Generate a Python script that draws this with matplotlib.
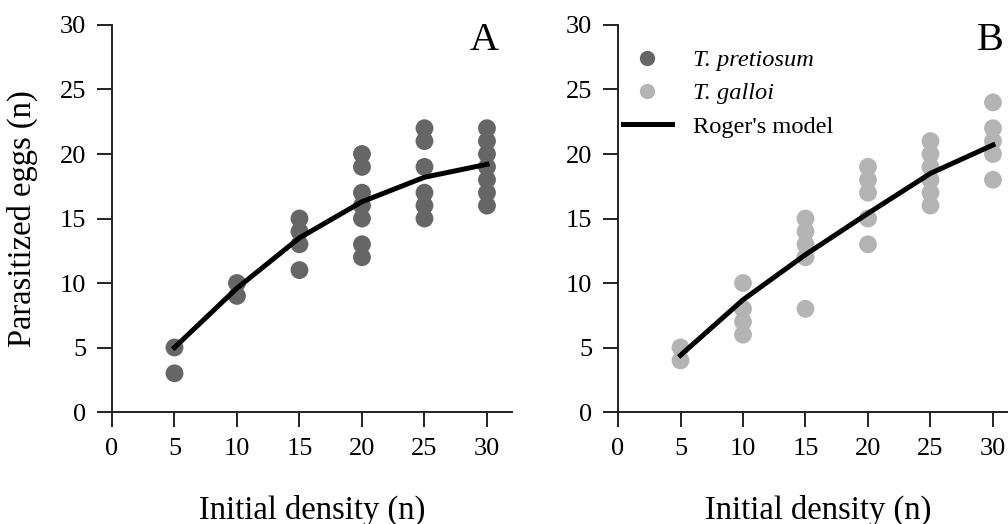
import matplotlib
matplotlib.use("Agg")
import matplotlib.pyplot as plt
from matplotlib.lines import Line2D

plt.rcParams['font.family'] = ['Liberation Serif', 'DejaVu Serif']

# initial host density and parasitized eggs per replicate
density = [5, 10, 15, 20, 25, 30]

pretiosum = {
    5: [5, 3],
    10: [10, 9],
    15: [15, 14, 13, 11],
    20: [20, 19, 17, 16, 15, 13, 12],
    25: [22, 21, 19, 17, 16, 15],
    30: [22, 21, 20, 19, 18, 17, 16],
}
galloi = {
    5: [5, 4],
    10: [10, 8, 7, 6],
    15: [15, 14, 13, 12, 8],
    20: [19, 18, 17, 15, 13],
    25: [21, 20, 19, 18, 17, 16],
    30: [24, 22, 21, 20, 18],
}

# Roger's model fitted values
model_a = [5.0, 9.6, 13.5, 16.3, 18.2, 19.2]
model_b = [4.4, 8.7, 12.2, 15.4, 18.5, 20.7]

xticks = [0, 5, 10, 15, 20, 25, 30]
yticks = [0, 5, 10, 15, 20, 25, 30]

dark = '#666666'
light = '#b4b4b4'

fig = plt.figure(figsize=(10.08, 5.24), dpi=100)
ax1 = fig.add_axes([0.1111, 0.2137, 0.3968, 0.7386])
ax2 = fig.add_axes([0.6131, 0.2137, 0.3968, 0.7386])


def draw(ax, data, model, color, letter):
    xs, ys = [], []
    for d in density:
        for v in data[d]:
            xs.append(d)
            ys.append(v)
    ax.scatter(xs, ys, s=165, c=color, edgecolors='none', zorder=2)
    ax.plot(density, model, color='black', lw=3.6, zorder=3)
    ax.set_xlim(0, 32)
    ax.set_ylim(0, 30)
    ax.set_xticks(xticks)
    ax.set_yticks(yticks)
    for s in ['top', 'right']:
        ax.spines[s].set_visible(False)
    for s in ['left', 'bottom']:
        ax.spines[s].set_linewidth(1.4)
        ax.spines[s].set_color('#222222')
    ax.tick_params(direction='out', length=10.5, width=1.4, color='#222222',
                   labelsize=19, pad=8)
    ax.set_xlabel('Initial density (n)', fontsize=23.5, labelpad=25)
    ax.text(29.8, 28.8, letter, fontsize=29, ha='center', va='center')
    for lab in ax.get_xticklabels() + ax.get_yticklabels():
        lab.set_clip_on(False)


draw(ax1, pretiosum, model_a, dark, 'A')
draw(ax2, galloi, model_b, light, 'B')
ax1.set_ylabel('Parasitized eggs (n)', fontsize=23.5, labelpad=16)

handles = [
    Line2D([], [], ls='none', marker='o', ms=11, mfc=dark, mec='none'),
    Line2D([], [], ls='none', marker='o', ms=11, mfc=light, mec='none'),
    Line2D([], [], color='black', lw=3.6),
]
labels = ['T. pretiosum', 'T. galloi', "Roger's model"]
leg = ax2.legend(handles, labels, loc='upper left', bbox_to_anchor=(0.0, 0.95),
                 frameon=False, fontsize=17.6, handlelength=2.0,
                 handletextpad=0.85, labelspacing=0.45, borderaxespad=0.0,
                 borderpad=0.2)
for t in leg.get_texts()[:2]:
    t.set_fontstyle('italic')

fig.savefig('out.png', dpi=100)
